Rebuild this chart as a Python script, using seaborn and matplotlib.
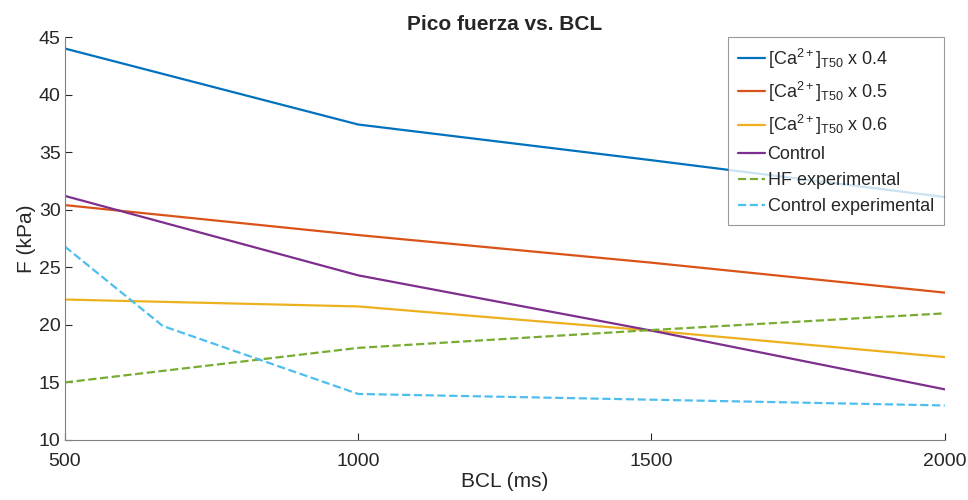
import matplotlib
matplotlib.use("Agg")
import matplotlib.pyplot as plt
import seaborn as sns
import pandas as pd

sns.set_style("white")
plt.rcParams['font.family'] = ['Liberation Sans', 'DejaVu Sans']
plt.rcParams['mathtext.fontset'] = 'custom'
plt.rcParams['mathtext.rm'] = 'Liberation Sans'
plt.rcParams['mathtext.it'] = 'Liberation Sans:italic'
plt.rcParams['mathtext.bf'] = 'Liberation Sans:bold'

bcl = [500, 1000, 1500, 2000]
ca04 = [44.0, 37.4, 34.3, 31.1]
ca05 = [30.4, 27.8, 25.4, 22.8]
ca06 = [22.2, 21.6, 19.5, 17.2]
control = [31.2, 24.3, 19.5, 14.4]
hf_bcl = [500, 1000, 1500, 2000]
hf_exp = [15.0, 18.0, 19.55, 21.0]
ctrl_bcl = [500, 667, 1000, 1500, 2000]
ctrl_exp = [26.8, 19.9, 14.0, 13.5, 13.0]

labels = [r'[Ca$^{2+}$]$_{\mathrm{T50}}$ x 0.4',
          r'[Ca$^{2+}$]$_{\mathrm{T50}}$ x 0.5',
          r'[Ca$^{2+}$]$_{\mathrm{T50}}$ x 0.6',
          'Control', 'HF experimental', 'Control experimental']

series = [(bcl, ca04, '#0072BD', '-'),
          (bcl, ca05, '#D95319', '-'),
          (bcl, ca06, '#EDB120', '-'),
          (bcl, control, '#7E2F8E', '-'),
          (hf_bcl, hf_exp, '#77AC30', '--'),
          (ctrl_bcl, ctrl_exp, '#4DBEEE', '--')]

fig = plt.figure(figsize=(9.68, 5.0), dpi=100)
ax = fig.add_axes([0.067, 0.12, 0.909, 0.806])

for (x, y, c, ls), lab in zip(series, labels):
    df = pd.DataFrame({'BCL': x, 'F': y})
    sns.lineplot(data=df, x='BCL', y='F', ax=ax, color=c, linestyle=ls,
                 linewidth=1.6, label=lab, sort=False)

ax.set_xlim(500, 2000)
ax.set_ylim(10, 45)
ax.set_xticks([500, 1000, 1500, 2000])
ax.set_yticks([10, 15, 20, 25, 30, 35, 40, 45])
ax.tick_params(direction='in', length=5, width=0.8, colors='#262626',
               labelsize=14, left=True, bottom=True)
ax.tick_params(axis='x', pad=9)
ax.tick_params(axis='y', pad=3)
for s in ['top', 'right']:
    ax.spines[s].set_visible(False)
for s in ['left', 'bottom']:
    ax.spines[s].set_color('#808080')
    ax.spines[s].set_linewidth(0.8)
ax.set_xlabel('BCL (ms)', fontsize=15, color='#262626', labelpad=2)
ax.set_ylabel('F (kPa)', fontsize=15, color='#262626', labelpad=2)
ax.set_title('Pico fuerza vs. BCL', fontsize=15, fontweight='bold', pad=5)

leg = ax.legend(loc='upper right', bbox_to_anchor=(1.003, 1.01), fontsize=13,
                frameon=True, fancybox=False, edgecolor='#808080',
                handlelength=1.5, handletextpad=0.15, borderpad=0.55,
                labelspacing=0.5, borderaxespad=0.2)
leg.get_frame().set_linewidth(0.8)
for t in leg.get_texts():
    t.set_color('#262626')

fig.savefig('out.png', dpi=100)
